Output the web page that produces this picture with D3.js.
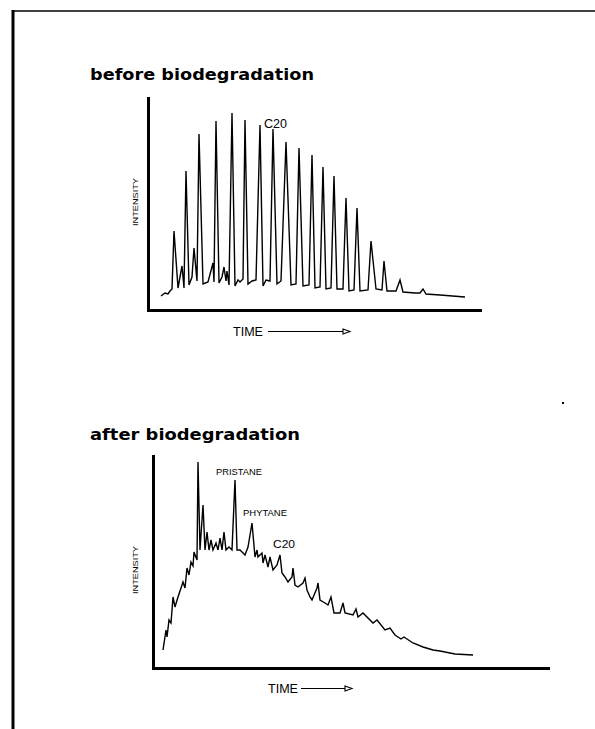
<!DOCTYPE html>
<html><head><meta charset="utf-8">
<script src="https://cdn.jsdelivr.net/npm/d3@7"></script>
<style>body{margin:0;background:#fff}svg{display:block}</style>
</head><body><svg id="c" width="595" height="729"></svg>
<script>
// ---- data (time in min, relative intensity) ----
const beforeTime = [3.25,4.25,5,5.5,6,6.5,7.5,8.5,9,9.5,10.25,11,11.5,12.25,12.75,13.75,15,16.25,16.5,17,17.75,18.5,19,19.5,19.75,20.25,21,21.75,22.5,23,23.75,24.25,25,26,27,28,28.75,29.5,30.5,31.25,32.25,33.25,34.5,35.75,37,37.75,38.75,40.25,41,41.75,43,43.75,44.5,45.75,46.5,47.25,48.75,49.5,50.25,51.5,52.25,53,55,55.75,57,58.5,59,59.75,62,63,63.75,66.75,68,68.75,69.5,73,79.25];
const beforeIntensity = [7,8.5,8,9.5,10.5,39.5,11,22,11,69.5,12.5,16.5,31,14.5,88,13,14,23.5,14,94.5,13.5,16.5,21.5,14.5,19.5,12.5,98.5,12,15,14,15.5,95,13,14.5,15,92.5,12,15,14.5,90.5,13,14.5,84,12.5,13,81,12,12.5,77.5,11,11.5,71.5,10.5,11,67,10.5,10.5,56,9.5,10,51,9.5,10,34.5,10.5,10,24.5,9.5,9.5,15,9,8.5,8.5,10.5,8,7.5,6.5];
const afterTime = [2.5,3.25,3.5,4,4.5,5,5.5,6.25,7.25,7.5,8,8.5,9,9.5,10,10.25,11,11.25,11.75,12.5,13,13.5,14,14.5,15,15.75,16.25,16.75,17.25,17.75,18.25,19,19.75,20.5,21,21.75,23,23.75,24.75,25.5,26,26.25,27.25,27.5,28,28.75,29.25,30,31,31.75,32.25,33,33.75,34.75,35,35.5,36.25,37.5,38,38.5,39.25,39.75,41,41.25,41.75,43,43.75,44.5,45.25,46.75,47.5,48,50,50.75,51.25,52.5,55,56,58,59.25,60.5,62,62.75,65,67.5,70,71.75,75.5,80];
const afterIntensity = [9,19,15.5,24,22.5,35.5,30.5,35.5,41.5,43,40,50,46.5,53,51,58,54,103,59,81.5,59,68,59,64,59,62.5,59,65,59,68,59,60.5,59,94,59,59,56.5,60.5,72.5,55.5,59,55.5,57.5,52.5,56.5,50.5,55.5,49,51.5,56.5,47.5,45.5,43,45.5,50,41.5,40.5,42.5,45,39,35.5,34,40,42.5,34,32.5,31.5,35.5,27.5,27.5,32.5,27.5,26.5,29.5,25.5,27.5,22.5,24,19,20,16.5,14.5,15.5,12.5,10.5,9,8.5,7,6.5];
const beforeLabels = ["C20"];
const beforeLabelTime = [31.25];
const beforeLabelIntensity = [90.5];
const afterLabels = ["PRISTANE","PHYTANE","C20"];
const afterLabelTime = [20.5,24.75,31.75];
const afterLabelIntensity = [94,72.5,56.5];
const titles = ["before biodegradation","after biodegradation"];
const yTitle = "INTENSITY";
const xTitle = "TIME";

// ---- layout ----
const svg = d3.select("#c");
const panels = [
  {time: beforeTime, inten: beforeIntensity, labels: beforeLabels, lt: beforeLabelTime, li: beforeLabelIntensity,
   title: titles[0], titleX: 90, titleY: 80, titleW: 224,
   x0: 148, x1: 480, xMax: 83, y0: 310, yMax: 106,
   labDx: [2.5], labDy: [-1], labW: [23], labFs: [12],
   yLab: [137.5, 202], timeX: 233, timeY: 336, arrow: [268, 350]},
  {time: afterTime, inten: afterIntensity, labels: afterLabels, lt: afterLabelTime, li: afterLabelIntensity,
   title: titles[1], titleX: 90, titleY: 440, titleW: 210,
   x0: 153, x1: 548, xMax: 98.75, y0: 668, yMax: 106,
   labDx: [4, 13, 4], labDy: [-5, -7, -7], labW: [46, 44, 22], labFs: [9.5, 9.5, 11],
   yLab: [138, 570], timeX: 268, timeY: 693, arrow: [301, 352]}
];

// frame
svg.append("line").attr("x1",13).attr("y1",10).attr("x2",13).attr("y2",729).attr("stroke","#000").attr("stroke-width",3);
svg.append("line").attr("x1",13).attr("y1",11).attr("x2",595).attr("y2",11).attr("stroke","#000").attr("stroke-width",1.6);
svg.append("rect").attr("x",562).attr("y",402).attr("width",2).attr("height",2).attr("fill","#000");

panels.forEach(p => {
  const x = d3.scaleLinear().domain([0, p.xMax]).range([p.x0, p.x1]);
  const y = d3.scaleLinear().domain([0, p.yMax]).range([p.y0, p.y0 - p.yMax * 2]);
  const g = svg.append("g");

  g.append("text").attr("x", p.titleX).attr("y", p.titleY)
    .attr("font-family", "DejaVu Sans").attr("font-weight", "bold").attr("font-size", 15)
    .attr("textLength", p.titleW).attr("lengthAdjust", "spacingAndGlyphs")
    .text(p.title);

  const ax = g.append("g").attr("transform", `translate(0,${p.y0})`)
    .call(d3.axisBottom(x).ticks(0).tickSizeOuter(0));
  const ay = g.append("g").attr("transform", `translate(${p.x0},0)`)
    .call(d3.axisLeft(y).ticks(0).tickSizeOuter(0));
  [ax, ay].forEach(a => a.select(".domain").attr("stroke", "#000").attr("stroke-width", 3).attr("stroke-linecap","square"));

  const pts = p.time.map((t, i) => [t, p.inten[i]]);
  g.append("path").datum(pts)
    .attr("d", d3.line().x(d => x(d[0])).y(d => y(d[1])))
    .attr("fill", "none").attr("stroke", "#000").attr("stroke-width", 1.4).attr("stroke-linejoin", "miter");

  p.labels.forEach((lab, i) => {
    g.append("text")
      .attr("x", x(p.lt[i]) + p.labDx[i]).attr("y", y(p.li[i]) + p.labDy[i])
      .attr("text-anchor", "middle")
      .attr("font-family", "Liberation Sans, Arial, sans-serif").attr("font-size", p.labFs[i])
      .attr("textLength", p.labW[i]).attr("lengthAdjust", "spacingAndGlyphs")
      .text(lab);
  });

  g.append("text").attr("transform", `translate(${p.yLab[0]},${p.yLab[1]}) rotate(-90)`)
    .attr("text-anchor", "middle").attr("font-family", "Liberation Sans, Arial, sans-serif")
    .attr("font-size", 8).attr("textLength", 48).attr("lengthAdjust", "spacingAndGlyphs")
    .text(yTitle);

  g.append("text").attr("x", p.timeX).attr("y", p.timeY)
    .attr("font-family", "Liberation Sans, Arial, sans-serif").attr("font-size", 12)
    .attr("textLength", 30).attr("lengthAdjust", "spacingAndGlyphs")
    .text(xTitle);
  const ayy = p.timeY - 4.5;
  g.append("line").attr("x1", p.arrow[0]).attr("x2", p.arrow[1] - 7).attr("y1", ayy).attr("y2", ayy)
    .attr("stroke", "#000").attr("stroke-width", 1.2);
  g.append("path").attr("d", `M${p.arrow[1]-7},${ayy-2.5}L${p.arrow[1]},${ayy}L${p.arrow[1]-7},${ayy+2.5}Z`)
    .attr("fill", "#fff").attr("stroke", "#000").attr("stroke-width", 1.1);
});
</script></body></html>
